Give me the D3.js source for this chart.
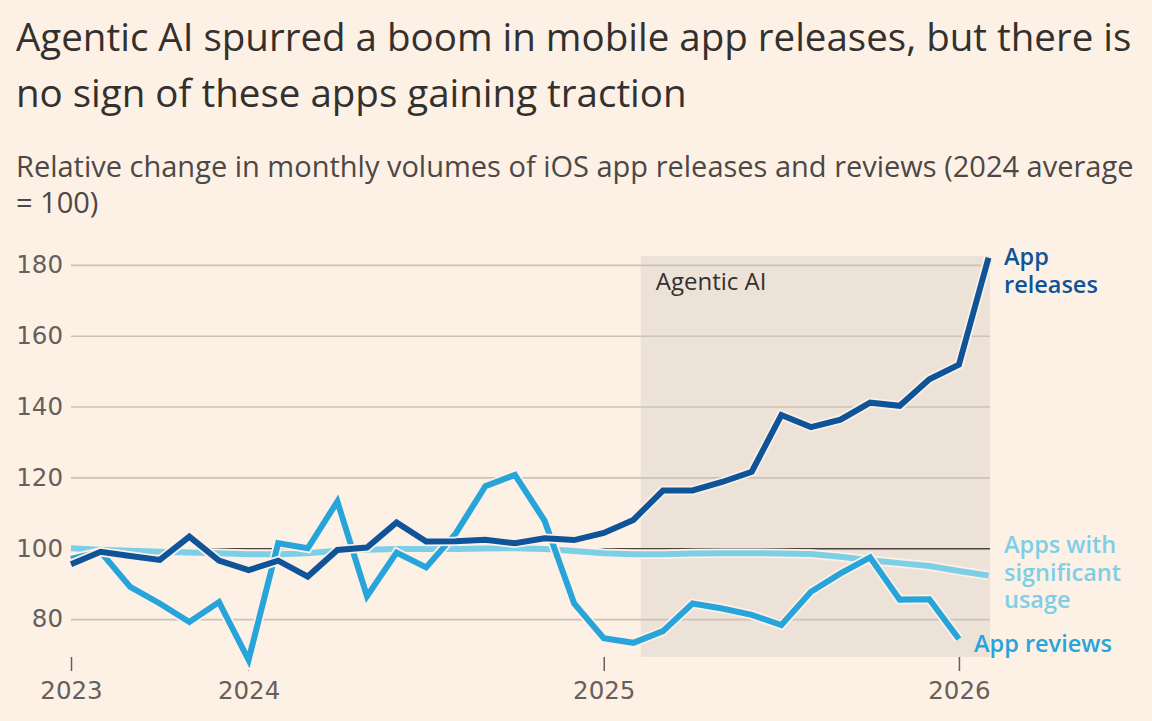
<!DOCTYPE html>
<html>
<head>
<meta charset="utf-8">
<script src="https://cdn.jsdelivr.net/npm/d3@7"></script>
<style>
  html, body { margin: 0; padding: 0; background: #fdf1e6; }
  svg { display: block; font-family: 'Open Sans', 'Noto Sans', sans-serif; }
</style>
</head>
<body>
<div id="chart"></div>
<script>
// month index along the x axis (first point sits on the "2023" tick)
const months = d3.range(32);

const appReleases = [
    95.5, 99, 97.8, 96.7, 103.3, 96.5, 93.8, 96.5, 92, 99.5, 100.2, 107.3,
    101.9, 102, 102.4, 101.4, 102.8, 102.3, 104.3, 108, 116.3, 116.3, 118.7, 121.6,
    137.6, 134.2, 136.3, 141.1, 140.2, 147.7, 151.8, 182
];
const appReviews = [
    97, 99, 89.1, 84.4, 79.2, 84.8, 68.5, 101.4, 100, 113.2, 86.5, 98.8,
    94.6, 104.2, 117.5, 120.7, 107.8, 84.4, 74.6, 73.3, 76.6, 84.4, 83, 81.2,
    78.3, 87.7, 92.9, 97.4, 85.5, 85.6, 74.4
];
const sigUsage = [
    100, 99.6, 99.3, 99, 98.8, 98.6, 98.3, 98.3, 98.6, 99.3, 99.6, 99.8,
    99.8, 99.8, 99.9, 100, 99.8, 99.2, 98.6, 98.3, 98.3, 98.5, 98.6, 98.6,
    98.5, 98.4, 97.6, 96.6, 95.8, 95, 93.6, 92.3
];

const yTicks = [80, 100, 120, 140, 160, 180];
const xTickIdx = [0, 6, 18, 30];
const xTickLabels = ['2023', '2024', '2025', '2026'];
const agenticSpan = [19.25, 31.05];

const title = [
    'Agentic AI spurred a boom in mobile app releases, but there is',
    'no sign of these apps gaining traction'
];
const subtitle = [
    'Relative change in monthly volumes of iOS app releases and reviews (2024 average',
    '= 100)'
];

const width = 1152;
const height = 721;
const bg = '#fdf1e6';
const tickFont = "'DejaVu Sans', sans-serif";

const svg = d3.select('#chart').append('svg')
    .attr('width', width)
    .attr('height', height)
    .attr('viewBox', [0, 0, width, height]);

svg.append('rect').attr('width', width).attr('height', height).attr('fill', bg);

const x = d3.scaleLinear().domain([0, 31.05]).range([71, 990]);
const y = d3.scaleLinear().domain([69.3, 182.5]).range([657, 256]);

// titles
svg.append('g').selectAll('text').data(title).join('text')
    .attr('x', 16)
    .attr('y', (d, i) => 51 + i * 56)
    .attr('fill', '#33302e')
    .attr('font-size', 38.5)
    .text(d => d);

svg.append('g').selectAll('text').data(subtitle).join('text')
    .attr('x', 16)
    .attr('y', (d, i) => 177 + i * 36)
    .attr('fill', '#4d4845')
    .attr('font-size', 29)
    .text(d => d);

// shaded agentic period
svg.append('rect')
    .attr('x', x(agenticSpan[0]))
    .attr('y', y.range()[1])
    .attr('width', x(agenticSpan[1]) - x(agenticSpan[0]))
    .attr('height', y.range()[0] - y.range()[1])
    .attr('fill', '#ede2d8');

svg.append('text')
    .attr('x', x(agenticSpan[0]) + 15)
    .attr('y', 290)
    .attr('fill', '#33302e')
    .attr('font-size', 24)
    .text('Agentic AI');

// y axis + gridlines
const yAxis = d3.axisLeft(y).tickValues(yTicks).tickSize(-(x.range()[1] - x.range()[0])).tickPadding(8);
const yG = svg.append('g').attr('transform', `translate(${x.range()[0]},0)`).call(yAxis);
yG.select('.domain').remove();
yG.selectAll('.tick line')
    .attr('stroke', d => (d === 100 ? '#4a4440' : '#cdc2b7'))
    .attr('stroke-width', d => (d === 100 ? 1.4 : 1.6));
yG.selectAll('.tick text')
    .attr('fill', '#66605c')
    .attr('font-size', 24.5)
    .attr('font-family', tickFont);

// x axis
const xAxis = d3.axisBottom(x)
    .tickValues(xTickIdx)
    .tickFormat((d, i) => xTickLabels[i])
    .tickSize(14)
    .tickPadding(6);
const xG = svg.append('g').attr('transform', `translate(0,${y.range()[0]})`).call(xAxis);
xG.select('.domain').remove();
xG.selectAll('.tick line').attr('stroke', '#66605c').attr('stroke-width', 1.5);
xG.selectAll('.tick text')
    .attr('fill', '#66605c')
    .attr('font-size', 24.5)
    .attr('dy', '0.9em')
    .attr('font-family', tickFont);

// lines
const series = [
    { key: 'usage', values: sigUsage, color: '#7dcfe7' },
    { key: 'reviews', values: appReviews, color: '#27a5db' },
    { key: 'releases', values: appReleases, color: '#0f5499' }
];

const line = d3.line().x((d, i) => x(months[i])).y(d => y(d));

const lines = svg.append('g').attr('fill', 'none').attr('stroke-linejoin', 'miter');
series.forEach((s) => {
    lines.append('path')
        .attr('d', line(s.values))
        .attr('stroke', bg)
        .attr('stroke-width', 9.5);
    lines.append('path')
        .attr('d', line(s.values))
        .attr('stroke', s.color)
        .attr('stroke-width', 6);
});

// direct labels
const labels = [
    { lines: ['App', 'releases'], x: 1004, y: 265, color: '#0f5499' },
    { lines: ['Apps with', 'significant', 'usage'], x: 1004, y: 553, color: '#7dcfe7' },
    { lines: ['App reviews'], x: 974, y: 652, color: '#27a5db' }
];
labels.forEach((l) => {
    svg.append('text')
        .attr('x', l.x)
        .attr('y', l.y)
        .attr('fill', l.color)
        .attr('font-size', 23.5)
        .attr('font-weight', 600)
        .selectAll('tspan').data(l.lines).join('tspan')
        .attr('x', l.x)
        .attr('dy', (d, i) => (i ? 27.5 : 0))
        .text(d => d);
});
</script>
</body>
</html>
